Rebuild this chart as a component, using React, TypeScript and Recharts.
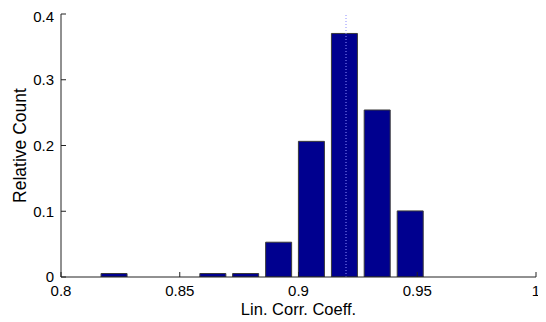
import { ComposedChart, Bar, XAxis, YAxis, ReferenceLine, Label } from 'recharts';

// histogram bin centres and relative counts
const binCenters = [0.8225, 0.8364, 0.8502, 0.8641, 0.8779, 0.8918, 0.9056, 0.9195, 0.9333, 0.9472];
const relCounts = [0.0053, 0, 0, 0.0053, 0.0053, 0.0529, 0.2063, 0.3704, 0.254, 0.1005];
const xTicks = [0.8, 0.85, 0.9, 0.95, 1];
const yTicks = [0, 0.1, 0.2, 0.3, 0.4];
const meanValue = 0.92;

const data = binCenters.map((x, i) => ({ x, count: relCounts[i] }));

const FONT = '"Liberation Sans", Arial, sans-serif';
const AXIS_COLOR = '#222';
const tickStyle = { fontSize: 15, fill: '#000', fontFamily: FONT };

export default function App() {
  return (
    <div style={{ width: 538, height: 314, fontFamily: FONT }}>
      <ComposedChart
        width={538}
        height={314}
        data={data}
        margin={{ top: 6, right: 10, bottom: 15, left: 13 }}
      >
        <XAxis
          dataKey="x"
          type="number"
          domain={[0.8, 1]}
          ticks={xTicks}
          allowDataOverflow
          height={30}
          tickSize={-5}
          tickMargin={13}
          tick={tickStyle}
          stroke={AXIS_COLOR}
        >
          <Label
            value="Lin. Corr. Coeff."
            position="bottom"
            offset={-4}
            style={{ fontSize: 16.5, fill: '#000', fontFamily: FONT }}
          />
        </XAxis>
        <XAxis
          xAxisId="top"
          dataKey="x"
          type="number"
          orientation="top"
          domain={[0.8, 1]}
          ticks={xTicks}
          allowDataOverflow
          height={0}
          tickSize={-5}
          tickFormatter={() => ''}
          stroke={AXIS_COLOR}
        />
        <YAxis
          type="number"
          domain={[0, 0.4]}
          ticks={yTicks}
          allowDataOverflow
          width={40}
          tickSize={-5}
          tickMargin={12}
          tick={tickStyle}
          stroke={AXIS_COLOR}
        >
          <Label
            content={({ viewBox }: any) => {
              const cx = viewBox.x - 1;
              const cy = viewBox.y + viewBox.height / 2;
              return (
                <text
                  x={cx}
                  y={cy}
                  transform={`rotate(-90, ${cx}, ${cy})`}
                  textAnchor="middle"
                  dominantBaseline="central"
                  fontSize={17.5}
                  fontFamily={FONT}
                  fill="#000"
                >
                  Relative Count
                </text>
              );
            }}
          />
        </YAxis>
        <YAxis
          yAxisId="right"
          orientation="right"
          type="number"
          domain={[0, 0.4]}
          ticks={yTicks}
          allowDataOverflow
          width={0}
          tickSize={-5}
          tickFormatter={() => ''}
          stroke={AXIS_COLOR}
        />
        <Bar
          dataKey="count"
          fill="#00008f"
          stroke="#3a3a3a"
          strokeWidth={1}
          barSize={26}
          isAnimationActive={false}
        />
        <ReferenceLine x={meanValue} stroke="#8c8cff" strokeDasharray="1 2" strokeWidth={1} />
      </ComposedChart>
    </div>
  );
}
